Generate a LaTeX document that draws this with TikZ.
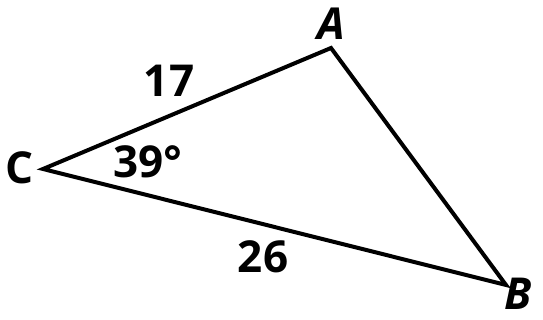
\documentclass[tikz,border=0pt]{standalone}
\usepackage{fontspec}
\setmainfont{Open Sans}
\usepackage{tikz}
\usetikzlibrary{positioning,calc}

\tikzset{
  side/.style={line width=4pt,line join=miter},
  lbl/.style={font=\fontsize{44}{44}\selectfont\bfseries,inner sep=0pt},
  vlbl/.style={lbl,font=\fontsize{44}{44}\selectfont\bfseries\itshape}
}

\begin{document}
\begin{tikzpicture}[x=1pt,y=-1pt]
    \useasboundingbox (0,0) rectangle (543,320);

    % vertices
    \coordinate (C) at (43,169);
    \coordinate (A) at (331,48);
    \coordinate (B) at (506,285);

    \draw[side] (C) -- (A) -- (B) -- cycle;

    \node[vlbl] (labA) at (331,24) {A};
    \node[vlbl] (labB) at (518,294) {B};
    \node[lbl] (labC) at (20,168) {C};

    \node[lbl] (s17) at (169,81) {17};
    \node[lbl] (s26) at (263,257) {26};
    \node[lbl] (ang) at (148,162) {39°};
  \end{tikzpicture}
\end{document}
